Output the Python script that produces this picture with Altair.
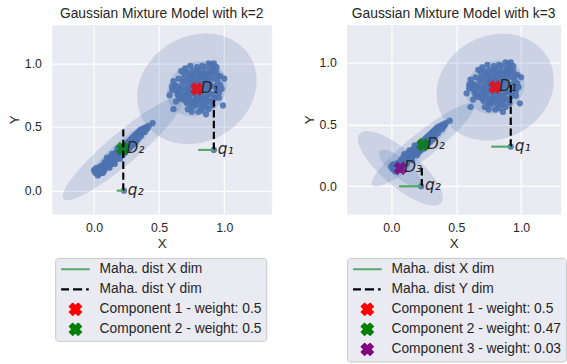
import altair as alt
import numpy as np
import pandas as pd

# ---------------- data ----------------
c1_x = [0.80,0.78,0.83,0.76,0.82,0.85,0.74,0.79,0.87,0.72, 0.81,0.77,0.88,0.70,0.84,0.75,0.90,0.68,0.86,0.73,
        0.92,0.66,0.80,0.89,0.71,0.94,0.64,0.83,0.91,0.76, 0.69,0.95,0.62,0.78,0.86,0.93,0.67,0.97,0.60,0.88,
        0.92,0.58,0.61,0.86,0.99,1.00,0.98,0.74,0.70,0.65, 0.82,0.79,0.84,0.75,0.77,0.81,0.73,0.87,0.85,0.71,
        0.90,0.78,0.69,0.92,0.83,0.96,0.64,0.80,0.89,0.72, 0.76,0.94,0.63,0.85,0.67,0.97,0.61,0.88,0.75,0.91,
        0.79,0.81,0.77,0.83,0.80,0.82,0.74,0.86,0.78,0.84,
        0.76,0.80,0.84,0.73,0.87,0.79,0.82,0.71,0.88,0.75, 0.93,0.68,0.81,0.77,0.90,0.66,0.85,0.72,0.95,0.63,
        0.87,0.74,0.79,0.92,0.69,0.96,0.65,0.83,0.70,0.89, 0.78,0.84,0.76,0.82,0.88,0.72,0.90,0.94,0.86,0.60]
c1_y = [0.80,0.83,0.78,0.79,0.84,0.81,0.76,0.74,0.86,0.82, 0.89,0.88,0.76,0.78,0.72,0.71,0.82,0.85,0.92,0.90,
        0.88,0.80,0.95,0.70,0.69,0.79,0.76,0.98,0.96,0.94, 0.92,0.85,0.83,0.67,0.66,0.74,0.72,0.90,0.79,1.00,
        1.00,0.75,0.64,0.60,0.67,0.88,0.80,0.98,0.96,0.88, 0.76,0.86,0.87,0.84,0.77,0.71,0.73,0.79,0.74,0.86,
        0.91,0.92,0.74,0.72,0.68,0.77,0.82,0.62,0.95,0.64, 0.66,0.93,0.70,0.97,0.94,0.83,0.86,0.64,0.62,0.67,
        0.78,0.82,0.81,0.81,0.77,0.91,0.87,0.84,0.72,0.93,
        0.82,0.84,0.79,0.80,0.82,0.70,0.66,0.75,0.88,0.91, 0.82,0.81,0.93,0.69,0.76,0.76,0.89,0.93,0.89,0.79,
        0.72,0.68,0.97,0.93,0.88,0.73,0.73,0.63,0.71,0.84, 0.75,0.83,0.85,0.73,0.92,0.78,0.99,0.97,0.69,0.82]
c2_x = [0.00,0.01,0.02,0.03,0.04,0.05,0.06,0.07,0.07,0.08, 0.09,0.10,0.10,0.11,0.12,0.12,0.13,0.14,0.14,0.15,
        0.16,0.16,0.17,0.18,0.18,0.19,0.19,0.20,0.20,0.21, 0.21,0.22,0.22,0.23,0.23,0.24,0.24,0.25,0.25,0.26,
        0.26,0.27,0.27,0.28,0.28,0.29,0.29,0.30,0.30,0.31, 0.31,0.32,0.32,0.33,0.33,0.34,0.34,0.35,0.35,0.36,
        0.36,0.37,0.38,0.38,0.39,0.40,0.41,0.42,0.45,0.06, 0.09,0.11,0.13,0.15,0.17,0.05,0.03,0.08,0.12,0.16,
        0.20,0.24,0.28,0.22,0.26,0.30,0.18,0.14,0.10,0.32,
        0.02,0.04,0.05,0.06,0.08,0.09,0.11,0.12,0.13,0.15, 0.15,0.16,0.17,0.18,0.19,0.20,0.21,0.21,0.22,0.23,
        0.24,0.25,0.26,0.27,0.28,0.29,0.30,0.31,0.33,0.34, 0.35,0.36,0.37,0.39,0.40,0.01,0.04,0.07,0.10,0.13]
c2_y = [0.16,0.14,0.18,0.15,0.13,0.19,0.17,0.20,0.14,0.22, 0.18,0.24,0.21,0.19,0.25,0.22,0.27,0.23,0.26,0.28,
        0.24,0.29,0.27,0.30,0.26,0.32,0.29,0.31,0.27,0.33, 0.30,0.34,0.31,0.35,0.32,0.36,0.33,0.34,0.37,0.35,
        0.38,0.36,0.39,0.37,0.40,0.38,0.41,0.39,0.42,0.40, 0.43,0.41,0.44,0.42,0.45,0.43,0.46,0.44,0.47,0.45,
        0.48,0.46,0.49,0.47,0.48,0.50,0.49,0.51,0.53,0.14, 0.21,0.23,0.21,0.25,0.30,0.16,0.12,0.16,0.18,0.21,
        0.25,0.30,0.34,0.28,0.32,0.36,0.33,0.29,0.26,0.38,
        0.16,0.17,0.14,0.19,0.19,0.23,0.25,0.20,0.24,0.22, 0.27,0.26,0.25,0.28,0.30,0.29,0.31,0.28,0.33,0.30,
        0.35,0.32,0.36,0.34,0.38,0.36,0.40,0.38,0.40,0.41, 0.45,0.43,0.47,0.46,0.48,0.17,0.15,0.18,0.20,0.26]
q_x = [0.92, 0.23]
q_y = [0.32, 0.0]
q_names = ["q\u2081", "q\u2082"]

line_labels = ["Maha. dist X dim", "Maha. dist Y dim"]

# k=2 panel
k2_mean_x = [0.79, 0.22]
k2_mean_y = [0.80, 0.33]
k2_names = ["D\u2081", "D\u2082"]
k2_labels = ["Component 1 - weight: 0.5", "Component 2 - weight: 0.5"]
k2_ell_a = [0.24, 0.30]
k2_ell_b = [0.205, 0.06]
k2_ell_ang = [35, 41]
k2_ydim_x = [0.92, 0.225]
k2_ydim_y1 = [0.32, 0.0]
k2_ydim_y2 = [0.71, 0.48]
k2_xdim_y = [0.32, 0.0]
k2_xdim_x1 = [0.80, 0.175]
k2_xdim_x2 = [0.92, 0.225]

# k=3 panel
k3_mean_x = [0.80, 0.245, 0.07]
k3_mean_y = [0.80, 0.335, 0.145]
k3_names = ["D\u2081", "D\u2082", "D\u2083"]
k3_labels = ["Component 1 - weight: 0.5", "Component 2 - weight: 0.47", "Component 3 - weight: 0.03"]
k3_ell_a = [0.235, 0.255, 0.21]
k3_ell_b = [0.205, 0.05, 0.072]
k3_ell_ang = [35, 40, -42]
k3_ydim_x = [0.92, 0.235]
k3_ydim_y1 = [0.32, 0.0]
k3_ydim_y2 = [0.82, 0.16]
k3_xdim_y = [0.32, 0.0]
k3_xdim_x1 = [0.77, 0.06]
k3_xdim_x2 = [0.92, 0.235]

# ---------------- styling ----------------
BLUE = "#4C72B0"
INK = "#262626"
BG = "#EAEAF2"
LINE_PATH = "M-1,0L1,0"
DASH_PATH = "M-1,0L-0.45,0M-0.17,0L0.47,0M0.75,0L0.93,0"
X_PATH = ("M-0.19,-0.38L0,-0.19L0.19,-0.38L0.38,-0.19L0.19,0L0.38,0.19L0.19,0.38L0,0.19"
          "L-0.19,0.38L-0.38,0.19L-0.19,0L-0.38,-0.19Z")
legend_colors = ["#55A868", "#000000", "#FF0000", "#008000", "#800080"]


def ellipse_frame(cx, cy, a, b, ang):
    rows = []
    for i in range(len(cx)):
        th = np.deg2rad(ang[i])
        c, s = np.cos(th), np.sin(th)
        for k in (1, 2):
            A, B = a[i] * k, b[i] * k
            half = np.sqrt(A**2 * c**2 + B**2 * s**2)
            for dx in half * np.cos(np.linspace(np.pi, 0, 121)):
                qa = s**2 / A**2 + c**2 / B**2
                qb = 2 * dx * c * s * (1 / A**2 - 1 / B**2)
                qc = dx**2 * (c**2 / A**2 + s**2 / B**2) - 1
                disc = max(qb**2 - 4 * qa * qc, 0.0)
                lo = (-qb - np.sqrt(disc)) / (2 * qa)
                hi = (-qb + np.sqrt(disc)) / (2 * qa)
                rows.append({"e": f"{i}-{k}", "x": cx[i] + dx, "lo": cy[i] + lo, "hi": cy[i] + hi})
    return pd.DataFrame(rows)


pts = pd.DataFrame({"x": c1_x + c2_x + q_x, "y": c1_y + c2_y + q_y})


def panel(title, xdom, ydom, w, h, mx, my, names, labels, ea, eb, eang,
          ydx, ydy1, ydy2, xdy, xdx1, xdx2, lx):
    xs = alt.Scale(domain=xdom, nice=False, zero=False)
    ys = alt.Scale(domain=ydom, nice=False, zero=False)
    xax = alt.Axis(values=[0, 0.5, 1.0], format=".1f", title="X", labelPadding=8)
    yax = alt.Axis(values=[0, 0.5, 1.0], format=".1f", title="Y", labelPadding=11)

    ell = alt.Chart(ellipse_frame(mx, my, ea, eb, eang)).mark_area(
        color=BLUE, opacity=0.2, clip=True
    ).encode(
        x=alt.X("x:Q", scale=xs, axis=xax),
        y=alt.Y("lo:Q", scale=ys, axis=yax),
        y2="hi:Q",
        detail="e:N",
    )
    dots = alt.Chart(pts).mark_circle(color=BLUE, size=40, opacity=0.9).encode(
        x=alt.X("x:Q", scale=xs), y=alt.Y("y:Q", scale=ys)
    )
    dom = line_labels + labels
    rng_shape = [LINE_PATH, DASH_PATH] + [X_PATH] * len(labels)
    rng_col = legend_colors[: len(dom)]
    leg = alt.Legend(
        title=None, orient="none", legendX=lx, legendY=236, direction="vertical",
        symbolSize=841, symbolStrokeWidth=2.2, symbolOpacity=1,
        labelFont="Liberation Sans", labelFontSize=14, labelColor=INK, labelLimit=400,
        labelOffset=8.5, padding=4.5, rowPadding=6.3, clipHeight=14,
        fillColor=BG, strokeColor="#c8c8c8", cornerRadius=3,
    )
    comps = pd.DataFrame({"x": mx, "y": my, "label": labels})
    crosses = alt.Chart(comps).mark_point(filled=True, size=841, opacity=0.78).encode(
        x=alt.X("x:Q", scale=xs), y=alt.Y("y:Q", scale=ys),
        shape=alt.Shape("label:N", scale=alt.Scale(domain=dom, range=rng_shape), legend=leg),
        fill=alt.Fill("label:N", scale=alt.Scale(domain=dom, range=rng_col), legend=leg),
        stroke=alt.Stroke("label:N", scale=alt.Scale(domain=dom, range=rng_col), legend=leg),
    )
    ydim = alt.Chart(pd.DataFrame({"x": ydx, "y1": ydy1, "y2": ydy2})).mark_rule(
        color="black", strokeWidth=2.2, strokeDash=[7.5, 3.5]
    ).encode(x=alt.X("x:Q", scale=xs), y=alt.Y("y1:Q", scale=ys), y2="y2:Q")
    xdim = alt.Chart(pd.DataFrame({"y": xdy, "x1": xdx1, "x2": xdx2})).mark_rule(
        color="#55A868", strokeWidth=2.2
    ).encode(x=alt.X("x1:Q", scale=xs), x2="x2:Q", y=alt.Y("y:Q", scale=ys))
    tx = pd.DataFrame({"x": list(mx) + q_x, "y": list(my) + q_y, "t": list(names) + q_names})
    texts = alt.Chart(tx).mark_text(
        align="left", baseline="middle", dx=4, dy=-1, font="DejaVu Sans",
        fontStyle="italic", fontSize=15.5, color=INK
    ).encode(x=alt.X("x:Q", scale=xs), y=alt.Y("y:Q", scale=ys), text="t:N")

    return alt.layer(ell, dots, crosses, ydim, xdim, texts).properties(
        width=w, height=h, title=title
    )


left = panel("Gaussian Mixture Model with k=2", [-0.32, 1.36], [-0.18, 1.30], 222, 191,
             k2_mean_x, k2_mean_y, k2_names, k2_labels, k2_ell_a, k2_ell_b, k2_ell_ang,
             k2_ydim_x, k2_ydim_y1, k2_ydim_y2, k2_xdim_y, k2_xdim_x1, k2_xdim_x2, 3)
right = panel("Gaussian Mixture Model with k=3", [-0.34, 1.30], [-0.22, 1.30], 216, 191,
              k3_mean_x, k3_mean_y, k3_names, k3_labels, k3_ell_a, k3_ell_b, k3_ell_ang,
              k3_ydim_x, k3_ydim_y1, k3_ydim_y2, k3_xdim_y, k3_xdim_x1, k3_xdim_x2, 0)

chart = alt.hconcat(left, right, spacing=30).resolve_scale(
    fill="independent", stroke="independent", shape="independent"
).resolve_legend(
    fill="independent", stroke="independent", shape="independent"
).properties(
    padding={"left": 7, "top": 4, "right": 0, "bottom": 0}
).configure_view(
    fill=BG, stroke=BG
).configure_axis(
    grid=True, gridColor="white", gridWidth=1.2, domain=False, ticks=False,
    labelFont="Liberation Sans", labelFontSize=12.5, labelColor=INK,
    titleFont="Liberation Sans", titleFontSize=13.5, titleFontWeight="normal",
    titleColor=INK, titlePadding=3,
).configure_title(
    font="Liberation Sans", fontSize=14, fontWeight="normal", color=INK, offset=4
)

chart.save("out.html", embed_options={"renderer": "svg", "actions": False})
